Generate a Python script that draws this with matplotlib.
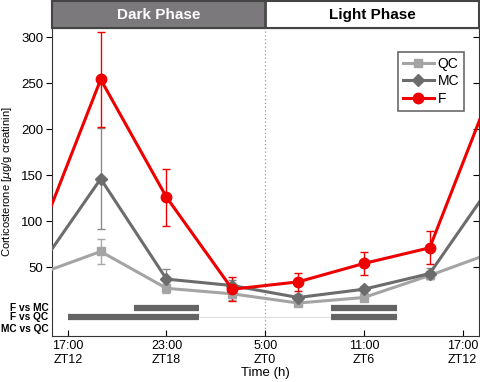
import numpy as np
import matplotlib
matplotlib.use("Agg")
import matplotlib.pyplot as plt

plt.rcParams['font.family'] = ['Liberation Sans', 'DejaVu Sans']

# sampling times, hours after ZT12 (17:00)
hours = [2, 6, 10, 14, 18, 22]
qc = [67, 27, 21, 11, 17, 41]
qc_err = [14, 5, 7, 3, 3, 4]
mc = [146, 37, 30, 17, 26, 43]
mc_err = [55, 11, 6, 4, 4, 6]
f = [254, 126, 26, 34, 54, 71]
f_err = [52, 31, 13, 10, 12, 18]

tick_pos = [0, 6, 12, 18, 24]
tick_labels = ['17:00\nZT12', '23:00\nZT18', '5:00\nZT0', '11:00\nZT6', '17:00\nZT12']
sig_rows = ['F vs MC', 'F vs QC', 'MC vs QC']
sig_y = [6.0, -4.0, -17.0]
sig_spans = {'F vs MC': [(4, 8), (16, 20)],
             'F vs QC': [(0, 8), (16, 20)],
             'MC vs QC': []}

c_qc = '#a4a4a4'
c_mc = '#6c6c6c'
c_f = '#ee0000'

fig = plt.figure(figsize=(4.8, 3.82), dpi=100)
ax = fig.add_axes([0.108, 0.120, 0.890, 0.807])
hdr = fig.add_axes([0.108, 0.927, 0.890, 0.070], sharex=ax)

xmin, xmax = -0.97, 25.0

# periodic data: repeat last/first point outside the window
xx = [hours[-1] - 24] + hours + [hours[0] + 24]
for vals, errs, col, ecol, mk, ms, lab in [(qc, qc_err, c_qc, '#a8a8a8', 's', 6, 'QC'),
                                           (mc, mc_err, c_mc, '#8a8a8a', 'D', 6, 'MC'),
                                           (f, f_err, c_f, c_f, 'o', 7.5, 'F')]:
    yy = [vals[-1]] + vals + [vals[0]]
    ax.errorbar(hours, vals, yerr=errs, fmt='none', ecolor=ecol, elinewidth=1,
                capsize=3, capthick=1, zorder=2)
    ax.plot(xx, yy, color=col, lw=2.2, marker=mk, ms=ms, markevery=list(range(1, 7)),
            label=lab, zorder=3)

# significance bars
ax.plot([0, 20], [sig_y[1], sig_y[1]], color='#e0e0e0', lw=0.8, zorder=1)
for row, yv in zip(sig_rows, sig_y):
    for a, b in sig_spans[row]:
        ax.plot([a, b], [yv, yv], color='#646464', lw=4.5, solid_capstyle='butt', zorder=2)
    ax.text(-0.008, yv, row, transform=ax.get_yaxis_transform(), ha='right', va='center',
            fontsize=7.3, fontweight='bold')

ax.axvline(12, color='#999999', ls=(0, (1, 2)), lw=0.9, zorder=0)

ax.set_xlim(xmin, xmax)
ax.set_ylim(-25, 310)
ax.set_yticks([50, 100, 150, 200, 250, 300])
ax.set_xticks(tick_pos)
ax.set_xticklabels(tick_labels, linespacing=1.15)
ax.tick_params(axis='y', direction='out', length=4, labelsize=9.5, right=True, pad=2)
ax.tick_params(axis='x', direction='in', length=4, labelsize=9, pad=3)
for t in ax.yaxis.get_ticklines()[1::2]:
    t.set_marker(0)  # right ticks pointing inward
ax.set_xlabel('Time (h)', fontsize=9.5, labelpad=1)
ax.set_ylabel(r'Corticosterone [$\mu$g/g creatinin]', fontsize=8, labelpad=5)
for s in ax.spines.values():
    s.set_color('#333333')

leg = ax.legend(loc='upper right', bbox_to_anchor=(0.965, 0.922), fontsize=10,
                fancybox=False, edgecolor='#444444', handlelength=2.2,
                handletextpad=0.3, borderpad=0.35, labelspacing=0.25, borderaxespad=0)
leg.get_frame().set_linewidth(1.2)

# header band
hdr.axvspan(xmin, 12, color='#7b797c', zorder=0)
hdr.axvline(12, color='#4a4a4a', lw=2)
hdr.set_ylim(0, 1)
hdr.text((xmin + 12) / 2, 0.5, 'Dark Phase', color='white', fontsize=11,
         fontweight='bold', ha='center', va='center')
hdr.text((12 + xmax) / 2, 0.5, 'Light Phase', color='black', fontsize=11,
         fontweight='bold', ha='center', va='center')
hdr.tick_params(left=False, bottom=False, labelleft=False, labelbottom=False)
for s in hdr.spines.values():
    s.set_color('#444444')
    s.set_linewidth(1.5)

fig.savefig('out.png', dpi=100)
